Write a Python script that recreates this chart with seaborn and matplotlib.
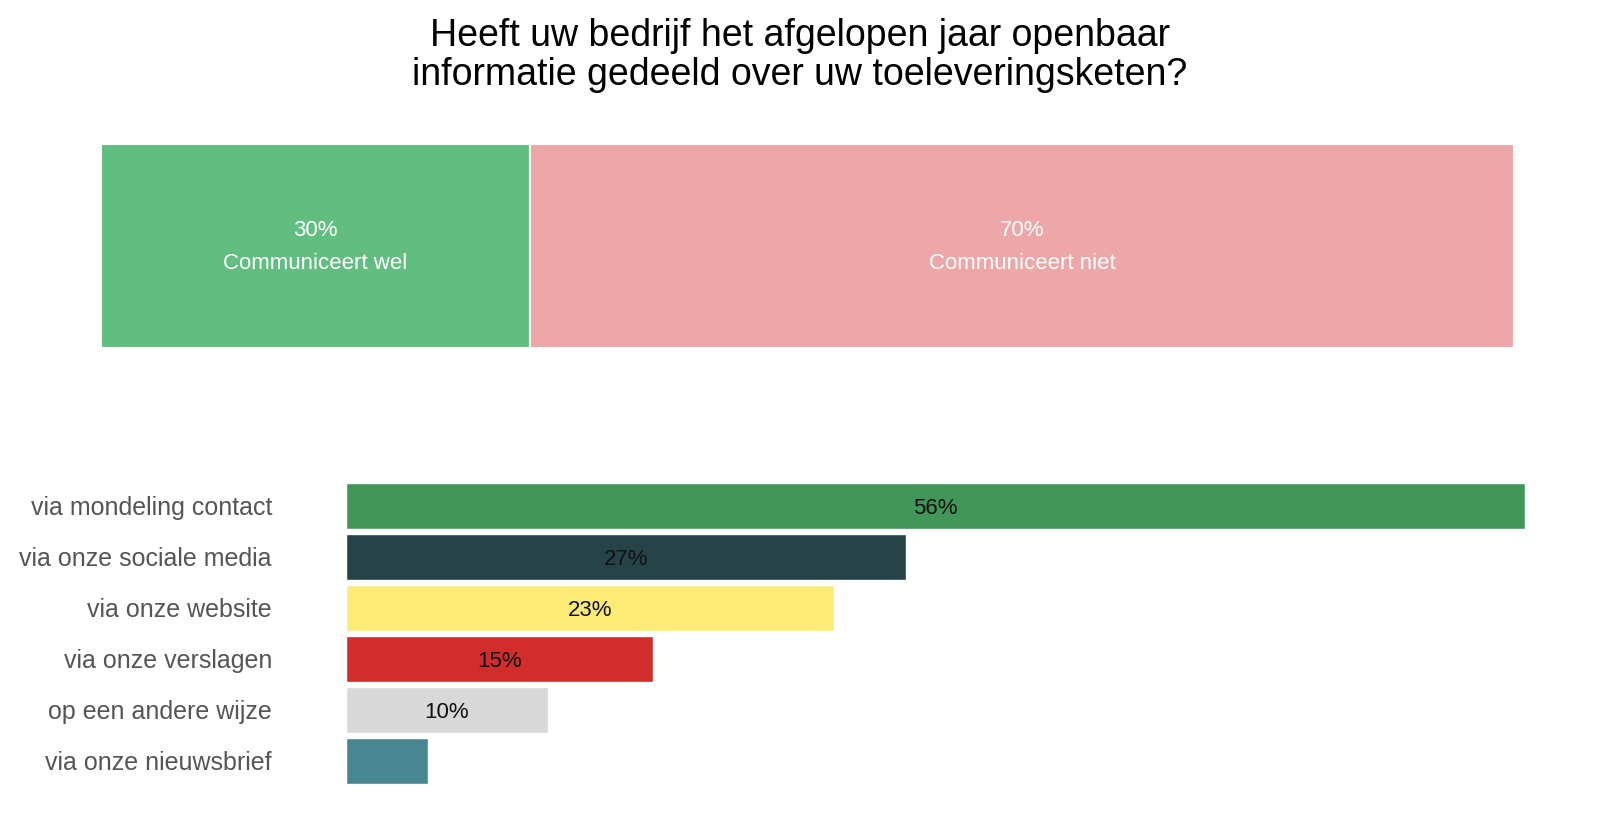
import matplotlib
matplotlib.use("Agg")
import matplotlib.pyplot as plt
import seaborn as sns
import pandas as pd

# data
top_labels = ["Communiceert wel", "Communiceert niet"]
top_values = [30.4, 69.6]
top_colors = ["#62BE80", "#EEA7A8"]

channels = ["via mondeling contact", "via onze sociale media", "via onze website",
            "via onze verslagen", "op een andere wijze", "via onze nieuwsbrief"]
channel_values = [56, 26.6, 23.2, 14.6, 9.6, 3.9]
channel_colors = ["#41975A", "#264348", "#FDEB78", "#D12D2A", "#D8D8D8", "#488691"]

sns.set_theme(style="white")
plt.rcParams["font.family"] = ["Liberation Sans", "DejaVu Sans"]

fig = plt.figure(figsize=(16, 8.15), dpi=100)

fig.text(0.5, 0.978, "Heeft uw bedrijf het afgelopen jaar openbaar\ninformatie gedeeld over uw toeleveringsketen?",
         ha="center", va="top", fontsize=27, color="black", linespacing=1.1)

# top stacked bar
ax1 = fig.add_axes([0.063, 0.573, 0.883, 0.25])
left = 0
for lab, val, col in zip(top_labels, top_values, top_colors):
    ax1.barh(0, val, left=left, height=1, color=col, edgecolor="white", linewidth=1.5)
    ax1.text(left + val / 2, 0.075, f"{round(val)}%", ha="center", va="center", color="white", fontsize=16)
    ax1.text(left + val / 2, -0.085, lab, ha="center", va="center", color="white", fontsize=16)
    left += val
ax1.set_xlim(0, 100)
ax1.set_ylim(-0.5, 0.5)
ax1.axis("off")

# bottom bars
df = pd.DataFrame({"kanaal": channels, "pct": channel_values})
ax2 = fig.add_axes([0.216, 0.035, 0.737, 0.3755])
sns.barplot(data=df, y="kanaal", x="pct", hue="kanaal", palette=channel_colors,
            width=0.9, legend=False, ax=ax2, saturation=1)
for i, v in enumerate(channel_values):
    if v >= 5:
        ax2.text(v / 2, i, f"{round(v)}%", ha="center", va="center_baseline", fontsize=16, color="#111111")
ax2.set_xlim(0, 56)
ax2.set_xlabel("")
ax2.set_ylabel("")
ax2.set_xticks([])
ax2.tick_params(axis="y", length=0, pad=53, labelsize=18, labelcolor="#555555")
sns.despine(ax=ax2, left=True, bottom=True)

fig.savefig("out.png", dpi=100)
